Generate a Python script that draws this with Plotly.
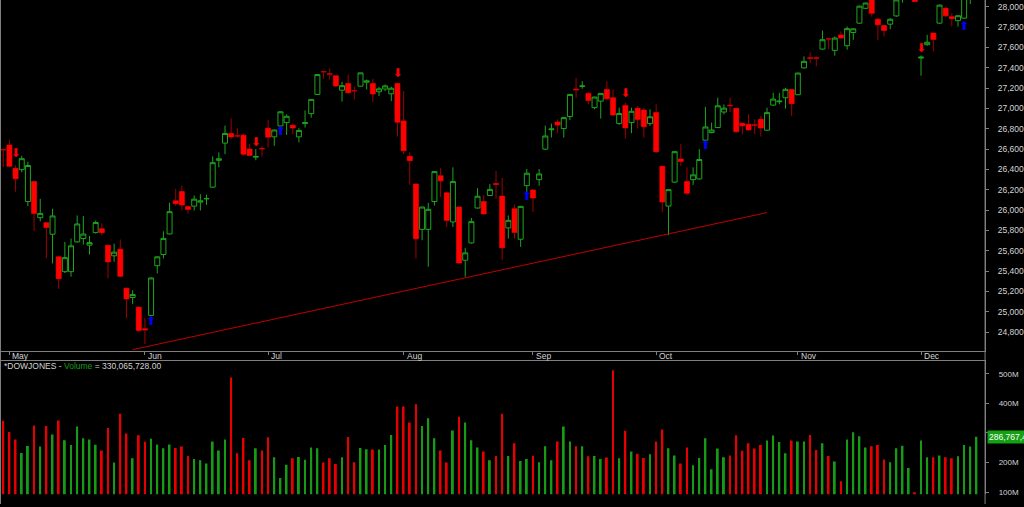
import plotly.graph_objects as go

# ---------------- data ----------------
dates = (
    ["2019-04-30"]
    + ["2019-05-%02d" % d for d in [1, 2, 3, 6, 7, 8, 9, 10, 13, 14, 15, 16, 17, 20, 21, 22, 23, 24, 28, 29, 30, 31]]
    + ["2019-06-%02d" % d for d in [3, 4, 5, 6, 7, 10, 11, 12, 13, 14, 17, 18, 19, 20, 21, 24, 25, 26, 27, 28]]
    + ["2019-07-%02d" % d for d in [1, 2, 3, 5, 8, 9, 10, 11, 12, 15, 16, 17, 18, 19, 22, 23, 24, 25, 26, 29, 30, 31]]
    + ["2019-08-%02d" % d for d in [1, 2, 5, 6, 7, 8, 9, 12, 13, 14, 15, 16, 19, 20, 21, 22, 23, 26, 27, 28, 29]]
    + ["2019-09-%02d" % d for d in [3, 4, 5, 6, 9, 10, 11, 12, 13, 16, 17, 18, 19, 20, 23, 24, 25, 26, 27, 30]]
    + ["2019-10-%02d" % d for d in [1, 2, 3, 4, 7, 8, 9, 10, 11, 14, 15, 16, 17, 18, 21, 22, 23, 24, 25, 28, 29, 30, 31]]
    + ["2019-11-%02d" % d for d in [1, 4, 5, 6, 7, 8, 11, 12, 13, 14, 15, 18, 19, 20, 21, 22, 25, 26, 27, 29]]
    + ["2019-12-%02d" % d for d in [3, 4, 5, 6, 9, 10, 11, 12, 13, 16]]
)

opens = [26595,
    26640, 26410, 26397, 26084, 26280, 25925, 25876, 25762, 25540, 25394, 25394, 25687, 25720, 25655, 25778, 25817, 25654, 25550, 25615, 25231, 25140, 25045,
    24833, 24964, 25453, 25563, 25765, 26091, 26182, 26035, 26039, 26078, 26110, 26225, 26489, 26658, 26753, 26730, 26736, 26600, 26520, 26606,
    26805, 26720, 26827, 26860, 26834, 26720, 26850, 26948, 27137, 27362, 27340, 27320, 27179, 27245, 27175, 27218, 27257, 27245, 27163, 27190, 27143, 27245,
    26876, 26528, 26257, 25810, 25810, 26084, 26338, 26169, 25883, 26029, 25507, 25677, 26020, 26084, 26143, 26260, 26137, 25824, 26013, 25713, 26240,
    26198, 26299, 26599, 26790, 26866, 26801, 26919, 27190, 27215, 27147, 27007, 27071, 27186, 27104, 26850, 27029, 26860, 27000, 26984, 26850,
    26958, 26430, 26039, 26275, 26502, 26280, 26299, 26306, 26687, 26762, 26811, 26964, 27030, 27000, 26853, 26843, 26838, 26892, 26785, 27032, 27065, 27104, 27186,
    27134, 27398, 27497, 27497, 27583, 27684, 27570, 27722, 27616, 27746, 27838, 27984, 28070, 27877, 27814, 27828, 27909, 28070, 28120, 28100,
    27495, 27626, 27740, 27838, 27984, 27902, 27863, 27887, 28123, 28191]

highs = [26605,
    26690, 26440, 26534, 26475, 26285, 26110, 25880, 26013, 25545, 25687, 25720, 25947, 25941, 25746, 25896, 25869, 25660, 25670, 25710, 25235, 25211, 25050,
    24937, 25340, 25545, 25791, 26071, 26208, 26240, 26045, 26143, 26156, 26152, 26528, 26567, 26830, 26902, 26805, 26750, 26650, 26599, 26631,
    26886, 26790, 26970, 26941, 26850, 26805, 26980, 27090, 27335, 27365, 27391, 27325, 27261, 27332, 27212, 27350, 27283, 27290, 27212, 27235, 27212, 27250,
    27170, 26567, 26260, 26030, 26071, 26385, 26410, 26180, 26420, 26030, 25628, 25922, 26215, 26150, 26257, 26384, 26316, 25947, 26055, 26040, 26404,
    26205, 26404, 26830, 26850, 26892, 26912, 27140, 27300, 27267, 27160, 27115, 27150, 27267, 27186, 27007, 27056, 27007, 27023, 27007, 26990,
    27039, 26435, 26205, 26580, 26648, 26420, 26420, 26599, 27014, 26860, 27104, 27039, 27104, 27005, 26855, 26941, 26892, 26925, 27007, 27153, 27153, 27202, 27190,
    27350, 27511, 27550, 27511, 27765, 27690, 27707, 27756, 27805, 27789, 28010, 28040, 28090, 27887, 27820, 27887, 28070, 28140, 28175, 28110,
    27520, 27723, 27745, 28020, 28000, 27935, 27915, 28224, 28290, 28337]

lows = [26425,
    26420, 26180, 26371, 26040, 25792, 25889, 25525, 25475, 25225, 25380, 25345, 25680, 25661, 25563, 25770, 25750, 25328, 25492, 25340, 24937, 25074, 24800,
    24683, 24960, 25377, 25524, 25760, 26040, 25996, 25964, 25996, 25996, 26052, 26220, 26420, 26550, 26700, 26710, 26534, 26530, 26490, 26528,
    26616, 26631, 26824, 26739, 26746, 26665, 26811, 26909, 27130, 27293, 27283, 27210, 27066, 27140, 27088, 27215, 27186, 27062, 27120, 27170, 27071, 26723,
    26550, 26247, 25524, 25703, 25443, 26045, 26130, 25834, 25834, 25470, 25345, 25670, 26015, 25955, 26140, 26110, 25507, 25719, 25719, 25638, 26176,
    25980, 26240, 26590, 26713, 26762, 26713, 26886, 27104, 27193, 27039, 26990, 26899, 27080, 26925, 26840, 26703, 26756, 26801, 26713, 26827,
    26560, 25980, 25752, 26270, 26436, 26143, 26247, 26300, 26680, 26755, 26805, 26941, 26964, 26760, 26746, 26780, 26746, 26723, 26780, 27025, 27039, 26997, 26925,
    27130, 27390, 27446, 27414, 27575, 27583, 27518, 27685, 27577, 27674, 27830, 27975, 27902, 27674, 27707, 27779, 27900, 28039, 28100, 28045,
    27322, 27616, 27560, 27830, 27895, 27805, 27805, 27880, 28026, 28165]

closes = [26592,
    26430, 26308, 26505, 26438, 25965, 25967, 25828, 25942, 25325, 25532, 25648, 25863, 25764, 25680, 25877, 25777, 25490, 25586, 25348, 25126, 25170, 24815,
    24820, 25332, 25540, 25721, 25984, 26063, 26049, 26005, 26107, 26090, 26113, 26466, 26504, 26753, 26719, 26727, 26548, 26537, 26527, 26600,
    26717, 26787, 26966, 26922, 26806, 26783, 26860, 27088, 27332, 27359, 27336, 27220, 27223, 27154, 27172, 27349, 27270, 27141, 27192, 27221, 27198, 26864,
    26583, 26485, 25718, 26030, 26007, 26378, 26287, 25898, 26280, 25479, 25579, 25886, 26136, 25962, 26203, 26252, 25629, 25899, 25778, 26036, 26362,
    26118, 26355, 26728, 26797, 26836, 26909, 27137, 27182, 27220, 27077, 27111, 27147, 27095, 26935, 26950, 26808, 26971, 26891, 26820, 26917,
    26573, 26079, 26201, 26574, 26478, 26164, 26346, 26497, 26817, 26787, 27025, 27002, 27026, 26770, 26828, 26788, 26834, 26806, 26958, 27091, 27071, 27187, 27046,
    27347, 27462, 27493, 27493, 27675, 27681, 27691, 27691, 27784, 27782, 28005, 28036, 27934, 27821, 27766, 27876, 28066, 28122, 28164, 28051,
    27503, 27650, 27678, 28015, 27910, 27882, 27911, 28132, 28135, 28236]

volumes_m = [341,
    303, 278, 232, 256, 325, 254, 323, 295, 342, 275, 259, 322, 282, 278, 260, 241, 317, 200, 365, 298, 214, 292,
    270, 280, 261, 248, 261, 249, 254, 222, 212, 208, 197, 271, 241, 278, 487, 231, 283, 208, 248, 241,
    285, 218, 148, 192, 214, 219, 209, 251, 248, 200, 214, 195, 218, 286, 201, 249, 245, 244, 244, 259, 293, 389,
    389, 335, 397, 323, 350, 282, 241, 200, 308, 355, 335, 275, 251, 237, 208, 222, 365, 222, 265, 205, 212,
    223, 201, 255, 208, 271, 322, 271, 255, 255, 221, 222, 212, 217, 512, 214, 307, 237, 230, 215, 228,
    271, 312, 248, 224, 197, 251, 191, 215, 282, 177, 247, 218, 224, 292, 240, 265, 247, 259, 274, 291, 269, 231, 274,
    271, 271, 293, 242, 265, 222, 203, 137, 278, 302, 289, 251, 255, 259, 210, 201, 248, 257, 181, 99,
    274, 218, 218, 224, 218, 214, 221, 259, 254, 286.767424]

month_starts = ["2019-05-01", "2019-06-03", "2019-07-01", "2019-08-01", "2019-09-03", "2019-10-01", "2019-11-01", "2019-12-03"]
month_labels = ["May", "Jun", "Jul", "Aug", "Sep", "Oct", "Nov", "Dec"]

price_ticks = list(range(24800, 28001, 200))
volume_ticks = [100, 200, 300, 400, 500]
volume_tick_labels = ["100M", "200M", "300M", "400M", "500M"]

up_signal_dates = ["2019-06-04", "2019-07-03", "2019-08-29", "2019-10-11", "2019-12-12"]
up_signal_prices = [24903, 26770, 26125, 26628, 27797]
down_signal_dates = ["2019-05-02", "2019-06-27", "2019-07-31", "2019-09-24", "2019-12-03"]
down_signal_prices = [26550, 26663, 27342, 27137, 27586]

trend_dates = ["2019-05-30", "2019-10-25"]
trend_prices = [24627, 25975]

volume_title = '*DOWJONES - <span style="color:#1a9a1a">Volume</span> = 330,065,728.00'

# ---------------- styling ----------------
W, H = 1024, 507
GREEN = "#1ea51e"
RED = "#ff0000"
DARKRED = "#a00000"
VGREEN = "#179b17"
VRED = "#e80000"
AX = "#808080"
TXT = "#d4d4d4"
FONT = "Liberation Sans"

x_right = 987 / W
price_dom = [1 - 353 / H, 1]
vol_dom = [1 - 497.3 / H, 1 - 363 / H]

body_hi = [max(o, c) for o, c in zip(opens, closes)]
body_lo = [min(o, c) for o, c in zip(opens, closes)]
vol_colors = [VGREEN if c > o else VRED for o, c in zip(opens, closes)]

fig = go.Figure()

# full candles (wicks dark red for falling bars, hollow green for rising)
fig.add_trace(go.Candlestick(
    x=dates, open=opens, high=highs, low=lows, close=closes,
    increasing=dict(line=dict(color=GREEN, width=1), fillcolor="#000000"),
    decreasing=dict(line=dict(color=DARKRED, width=1), fillcolor=DARKRED),
    whiskerwidth=0, hoverinfo="skip", xaxis="x", yaxis="y"))
# bright red bodies on top
fig.add_trace(go.Candlestick(
    x=dates, open=opens, high=body_hi, low=body_lo, close=closes,
    increasing=dict(line=dict(color="rgba(0,0,0,0)", width=0), fillcolor="rgba(0,0,0,0)"),
    decreasing=dict(line=dict(color=RED, width=0), fillcolor=RED),
    whiskerwidth=0, hoverinfo="skip", xaxis="x", yaxis="y"))

# trend line
fig.add_trace(go.Scatter(x=trend_dates, y=trend_prices, mode="lines",
                         line=dict(color="#c00000", width=1), hoverinfo="skip",
                         xaxis="x", yaxis="y"))

# signal arrows
fig.add_trace(go.Scatter(x=up_signal_dates, y=up_signal_prices, mode="text",
                         text=["\u2b06"] * len(up_signal_dates),
                         textfont=dict(color="#0000ff", size=12, family="DejaVu Sans"),
                         textposition="middle center", hoverinfo="skip", xaxis="x", yaxis="y"))
fig.add_trace(go.Scatter(x=down_signal_dates, y=down_signal_prices, mode="text",
                         text=["\u2b07"] * len(down_signal_dates),
                         textfont=dict(color="#ff0000", size=12, family="DejaVu Sans"),
                         textposition="middle center", hoverinfo="skip", xaxis="x", yaxis="y"))

# volume
fig.add_trace(go.Bar(x=dates, y=volumes_m, marker=dict(color=vol_colors, line=dict(width=0)),
                     width=0.3, hoverinfo="skip", xaxis="x2", yaxis="y2"))

annotations = []
for d, lab in zip(month_starts, month_labels):
    annotations.append(dict(x=d, xref="x", y=1 - 358.5 / H, yref="paper", text=lab,
                            showarrow=False, xanchor="left", yanchor="middle", xshift=1,
                            font=dict(size=8.5, color=TXT, family=FONT)))
annotations.append(dict(x=2 / W, xref="paper", y=1 - 368.5 / H, yref="paper", text=volume_title,
                        showarrow=False, xanchor="left", yanchor="middle",
                        font=dict(size=8.5, color=TXT, family=FONT)))
annotations.append(dict(x=989 / W, xref="paper", y=volumes_m[-1], yref="y2",
                        text=f"{volumes_m[-1] * 1e6:,.0f}", showarrow=False,
                        xanchor="left", yanchor="middle", bgcolor="#14a014", borderpad=1,
                        font=dict(size=8.5, color="#ffffff", family=FONT)))

shapes = [
    dict(type="line", xref="paper", yref="paper", x0=0.5 / W, x1=0.5 / W, y0=0, y1=1,
         line=dict(color=AX, width=1)),
    dict(type="line", xref="paper", yref="paper", x0=x_right, x1=x_right, y0=0, y1=1,
         line=dict(color=AX, width=1)),
]

fig.update_layout(
    width=W, height=H, margin=dict(l=0, r=0, t=0, b=0),
    paper_bgcolor="#000000", plot_bgcolor="#000000", showlegend=False,
    boxgap=0.1, boxgroupgap=0.1,
    xaxis=dict(type="category", domain=[0, x_right], anchor="y", range=[-0.53, 159.4],
               tickvals=month_starts, showticklabels=False, ticks="outside", ticklen=3,
               tickcolor=AX, showline=True, linecolor=AX, linewidth=1, showgrid=False,
               zeroline=False, rangeslider=dict(visible=False), fixedrange=True),
    yaxis=dict(domain=price_dom, anchor="x", side="right", range=[24614.8, 28065.5],
               tickvals=price_ticks, tickformat=",d", ticks="outside", ticklen=3, tickcolor=AX,
               showline=True, linecolor=AX, showgrid=False, zeroline=False,
               tickfont=dict(size=8.5, color=TXT, family=FONT), ticklabelstandoff=7),
    xaxis2=dict(type="category", domain=[0, x_right], anchor="y2", matches="x", side="top",
                showticklabels=False, ticks="", showline=True, linecolor=AX, showgrid=False,
                zeroline=False),
    yaxis2=dict(domain=vol_dom, anchor="x2", side="right", range=[92.3, 543.7],
                tickvals=volume_ticks, ticktext=volume_tick_labels, ticks="outside", ticklen=3,
                tickcolor=AX, showline=True, linecolor=AX, showgrid=False, zeroline=False,
                tickfont=dict(size=8, color=TXT, family=FONT), ticklabelstandoff=8),
    annotations=annotations, shapes=shapes,
)

fig.write_html("out.html", config={"displayModeBar": False},
               post_script="document.body.style.margin='0';document.body.style.background='#000';")
